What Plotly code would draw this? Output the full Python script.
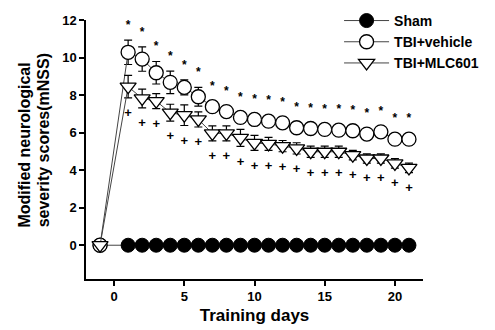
import plotly.graph_objects as go

days = [-1] + list(range(1, 22))
sham = [0] * 22
vehicle = [0, 10.28, 9.92, 9.19, 8.68, 8.41, 7.91, 7.38, 7.12, 6.81, 6.70, 6.61, 6.52,
           6.26, 6.22, 6.17, 6.13, 6.10, 5.92, 6.04, 5.65, 5.65]
vehicle_err = [0, 0.65, 0.65, 0.6, 0.6, 0.4, 0.5, 0.3, 0.3, 0.3, 0.3, 0.3, 0.3,
               0.3, 0.3, 0.3, 0.3, 0.3, 0.3, 0.3, 0.3, 0.3]
mlc = [0, 8.45, 7.82, 7.68, 7.06, 6.93, 6.70, 5.96, 5.96, 5.72, 5.45, 5.40, 5.28,
       5.16, 4.98, 4.98, 4.98, 4.80, 4.62, 4.62, 4.36, 4.12]
mlc_err = [0, 0.6, 0.5, 0.4, 0.45, 0.55, 0.4, 0.4, 0.4, 0.45, 0.4, 0.35, 0.3,
           0.3, 0.3, 0.3, 0.3, 0.25, 0.25, 0.25, 0.25, 0.25]
star_days = list(range(1, 22))
plus_days = list(range(1, 22))
x_ticks = [0, 5, 10, 15, 20]
y_ticks = [0, 2, 4, 6, 8, 10, 12]
y_title_lines = ["Modified neurological", "severity scores(mNSS)"]

font_family = "Liberation Sans, Arial, sans-serif"

fig = go.Figure()
fig.add_trace(go.Scatter(
    x=days, y=sham, name="Sham", mode="lines+markers",
    line=dict(color="#444", width=1),
    marker=dict(symbol="circle", size=14, color="black", line=dict(color="black", width=1)),
))
fig.add_trace(go.Scatter(
    x=days, y=vehicle, name="TBI+vehicle", mode="lines+markers",
    line=dict(color="#444", width=1),
    error_y=dict(type="data", array=vehicle_err, color="black", thickness=1.2, width=4),
    marker=dict(symbol="circle", size=14, color="white", line=dict(color="black", width=1.3)),
))
fig.add_trace(go.Scatter(
    x=days, y=mlc, name="TBI+MLC601", mode="lines+markers",
    line=dict(color="#444", width=1),
    error_y=dict(type="data", array=mlc_err, color="black", thickness=1.2, width=4),
    marker=dict(symbol="triangle-down", size=14, color="white", line=dict(color="black", width=1.3)),
))

idx = {d: i for i, d in enumerate(days)}
fig.add_trace(go.Scatter(
    x=star_days, y=[vehicle[idx[d]] + vehicle_err[idx[d]] + 0.75 for d in star_days],
    mode="text", text=["*"] * len(star_days), showlegend=False, hoverinfo="skip",
    textfont=dict(family=font_family, size=12, color="black", weight="bold"),
))
fig.add_trace(go.Scatter(
    x=plus_days, y=[mlc[idx[d]] - mlc_err[idx[d]] - 0.85 for d in plus_days],
    mode="text", text=["+"] * len(plus_days), showlegend=False, hoverinfo="skip",
    textfont=dict(family=font_family, size=13, color="black", weight="bold"),
))

fig.update_layout(
    width=495, height=330,
    margin=dict(l=86, r=72, t=20, b=51, autoexpand=False),
    paper_bgcolor="white", plot_bgcolor="white",
    font=dict(family=font_family, color="black"),
    showlegend=True,
    legend=dict(
        xref="container", yref="container",
        x=0.685, y=0.985, xanchor="left", yanchor="top",
        bgcolor="rgba(0,0,0,0)",
        font=dict(family=font_family, size=14, color="black", weight="bold"),
        tracegroupgap=0, itemwidth=45,
    ),
    xaxis=dict(
        range=[-2, 22], tickvals=x_ticks, showgrid=False, zeroline=False,
        showline=True, linecolor="black", linewidth=1.5,
        ticks="outside", ticklen=5, tickwidth=1.5, tickcolor="black",
        tickfont=dict(size=13, weight="bold"),
        title=dict(text="Training days", font=dict(size=17, weight="bold"), standoff=6),
    ),
    yaxis=dict(
        range=[-1.8, 12], tickvals=y_ticks, showgrid=False, zeroline=False,
        showline=True, linecolor="black", linewidth=1.5,
        ticks="outside", ticklen=5, tickwidth=1.5, tickcolor="black",
        tickfont=dict(size=13, weight="bold"),
    ),
    annotations=[
        dict(text=t, xref="paper", yref="paper", x=xp, y=0.19,
             xanchor="center", yanchor="bottom", textangle=-90, showarrow=False,
             font=dict(family=font_family, size=16, weight="bold", color="black"))
        for t, xp in zip(y_title_lines, [-0.183, -0.126])
    ],
)

fig.write_html("out.html", config={"displayModeBar": False},
               post_script="document.body.style.margin='0';")
